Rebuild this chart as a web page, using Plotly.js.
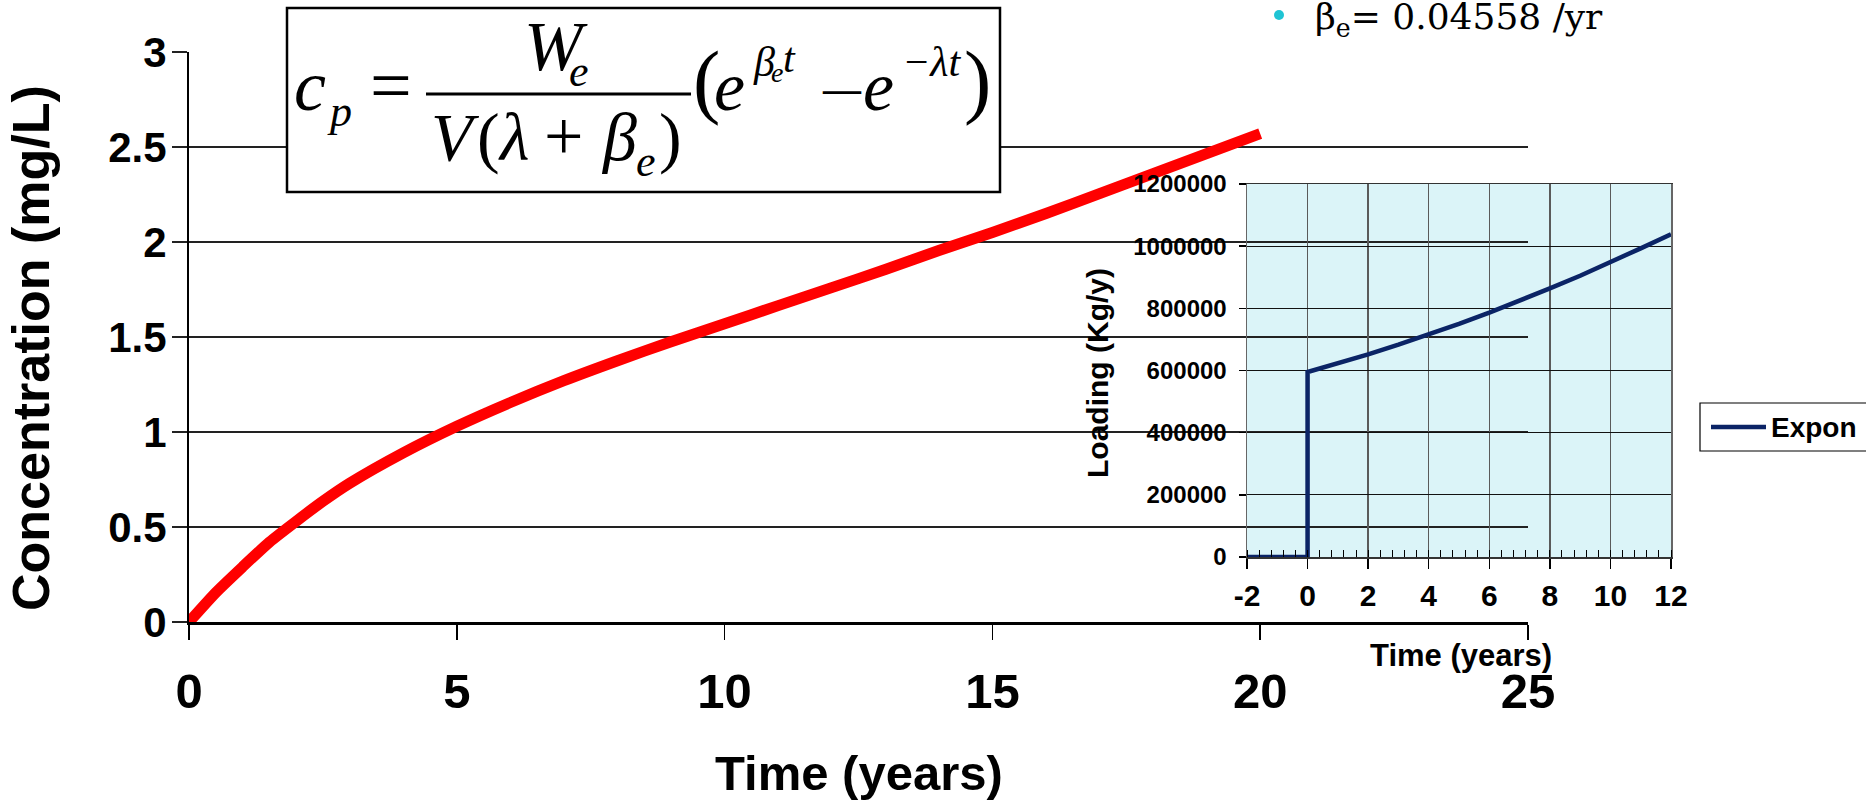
<!DOCTYPE html>
<html>
<head>
<meta charset="utf-8">
<script src="https://cdn.plot.ly/plotly-3.0.1.min.js"></script>
<style>html,body{margin:0;padding:0;background:#fff;}#chart{width:1866px;height:802px;}</style>
</head>
<body>
<div id="chart"></div>
<script>
// ---- data ----
const timeYears = [0, 0.5, 1, 1.5, 2, 2.5, 3, 4, 5, 6, 7, 8, 9, 10, 11, 12, 13, 14, 15, 16, 17, 18, 19, 20];
const concentration = [0, 0.155, 0.29, 0.42, 0.53, 0.635, 0.73, 0.89, 1.03, 1.155, 1.27, 1.375, 1.475, 1.57, 1.665, 1.76, 1.855, 1.955, 2.05, 2.15, 2.255, 2.36, 2.465, 2.57];

const loadTime = [-2, 0, 0, 1, 2, 3, 4, 5, 6, 7, 8, 9, 10, 11, 12];
const loadValue = [0, 0, 595000, 623000, 652000, 683000, 716000, 750000, 786000, 824000, 864000, 905000, 948000, 993000, 1038000];

const mainXTicks = [0, 5, 10, 15, 20, 25];
const mainYTicks = [0, 0.5, 1, 1.5, 2, 2.5, 3];
const insetXTicks = [-2, 0, 2, 4, 6, 8, 10, 12];
const insetYTicks = [0, 200000, 400000, 600000, 800000, 1000000, 1200000];

const legendName = 'Expon';
const mainXTitle = 'Time (years)';
const mainYTitle = 'Concentration (mg/L)';
const insetXTitle = 'Time (years)';
const insetYTitle = 'Loading (Kg/y)';
const betaText = 'β<sub>e</sub>= 0.04558 /yr';

// ---- layout helpers (pixel -> paper) ----
const W = 1866, H = 802;
const px = x => x / W;
const py = y => 1 - y / H;
const SANS = 'Liberation Sans, Arial, sans-serif';
const SERIF = 'Liberation Serif, Times New Roman, serif';

function txt(text, xLeft, baseline, size, o) {
  o = o || {};
  const desc = (o.desc !== undefined) ? o.desc : 0.216;
  const center = o.center;
  return {
    xref: 'paper', yref: 'paper',
    x: center ? px(xLeft) : px(xLeft - 2),
    y: py(baseline + desc * size + 2),
    xanchor: center ? 'center' : 'left', yanchor: 'bottom',
    text: text, showarrow: false,
    font: {family: o.family || SERIF, size: size, color: '#000',
           style: o.italic ? 'italic' : 'normal', weight: o.bold ? 'bold' : 'normal'}
  };
}
function rot(text, cx, cy, size) {
  return {xref: 'paper', yref: 'paper', x: px(cx), y: py(cy), xanchor: 'center', yanchor: 'middle',
    text: text, showarrow: false, textangle: -90,
    font: {family: SANS, size: size, color: '#000', weight: 'bold'}};
}

const traces = [
  {x: timeYears, y: concentration, type: 'scatter', mode: 'lines', xaxis: 'x', yaxis: 'y',
   line: {color: '#ff0000', width: 11, shape: 'spline', smoothing: 0.6}, showlegend: false, hoverinfo: 'skip'},
  {x: loadTime, y: loadValue, type: 'scatter', mode: 'lines', xaxis: 'x2', yaxis: 'y2', name: legendName,
   line: {color: '#0b2466', width: 4.5}, showlegend: false, hoverinfo: 'skip'}
];

const layout = {
  width: W, height: H,
  margin: {l: 0, r: 0, t: 0, b: 0, pad: 0},
  paper_bgcolor: '#ffffff', plot_bgcolor: 'rgba(0,0,0,0)',
  showlegend: false,
  xaxis: {
    domain: [px(189), px(1528)], anchor: 'y', range: [0, 25],
    tickmode: 'array', tickvals: mainXTicks, ticktext: mainXTicks.map(String),
    showgrid: false, zeroline: false, showline: true, linecolor: '#000', linewidth: 2.5,
    ticks: 'outside', ticklen: 15, tickwidth: 1.5, tickcolor: '#000',
    tickfont: {family: SANS, size: 49, color: '#000', weight: 'bold'}, ticklabelstandoff: 10
  },
  yaxis: {
    domain: [1 - 622 / H, 1 - 52 / H], anchor: 'x', range: [0, 3],
    tickmode: 'array', tickvals: mainYTicks, ticktext: mainYTicks.map(String),
    showgrid: true, gridcolor: '#222', gridwidth: 1.8, zeroline: false,
    showline: true, linecolor: '#000', linewidth: 2,
    ticks: 'outside', ticklen: 15, tickwidth: 1.8, tickcolor: '#222',
    tickfont: {family: SANS, size: 42, color: '#000', weight: 'bold'}, ticklabelstandoff: -3
  },
  xaxis2: {
    domain: [px(1247), px(1671)], anchor: 'y2', range: [-2, 12],
    tickmode: 'array', tickvals: insetXTicks, ticktext: insetXTicks.map(String),
    showgrid: true, gridcolor: '#5a5a5a', gridwidth: 1.4, zeroline: false,
    showline: true, mirror: true, linecolor: '#333', linewidth: 1.5,
    ticks: 'outside', ticklen: 10, tickwidth: 1.5, tickcolor: '#000',
    minor: {ticks: 'inside', dtick: 0.4, tick0: -2, ticklen: 7, tickwidth: 1, tickcolor: '#000', showgrid: false},
    tickfont: {family: SANS, size: 30, color: '#000', weight: 'bold'}, ticklabelstandoff: 1
  },
  yaxis2: {
    domain: [1 - 557 / H, 1 - 184 / H], anchor: 'x2', range: [0, 1200000],
    tickmode: 'array', tickvals: insetYTicks, ticktext: insetYTicks.map(v => String(v)),
    showgrid: true, gridcolor: '#111', gridwidth: 1.3, zeroline: false,
    showline: true, mirror: true, linecolor: '#666', linewidth: 1.5,
    ticks: 'outside', ticklen: 7, tickwidth: 1.5, tickcolor: '#000',
    tickfont: {family: SANS, size: 24, color: '#000', weight: 'bold'}, ticklabelstandoff: 7
  },
  shapes: [
    // inset plot background
    {type: 'rect', xref: 'x2 domain', yref: 'y2 domain', x0: 0, x1: 1, y0: 0, y1: 1,
     fillcolor: '#dbf4f8', line: {width: 0}, layer: 'below'},
    // formula box
    {type: 'rect', xref: 'paper', yref: 'paper', x0: px(287), x1: px(1000), y0: py(192), y1: py(8),
     fillcolor: '#ffffff', line: {color: '#000', width: 2.5}, layer: 'above'},
    // fraction bar
    {type: 'line', xref: 'paper', yref: 'paper', x0: px(426), x1: px(691), y0: py(94), y1: py(94),
     line: {color: '#000', width: 3}, layer: 'above'},
    // bullet
    {type: 'circle', xref: 'paper', yref: 'paper', x0: px(1274), x1: px(1284), y0: py(20), y1: py(10),
     fillcolor: '#1fc4d4', line: {width: 0}, layer: 'above'},
    // legend box
    {type: 'rect', xref: 'paper', yref: 'paper', x0: px(1700), x1: px(1880), y0: py(451), y1: py(403),
     fillcolor: 'rgba(255,255,255,0)', line: {color: '#000', width: 1.2}, layer: 'above'},
    {type: 'line', xref: 'paper', yref: 'paper', x0: px(1711), x1: px(1766), y0: py(427), y1: py(427),
     line: {color: '#0b2466', width: 4.5}, layer: 'above'}
  ],
  annotations: [
    // axis titles
    txt(mainXTitle, 859, 790, 49, {family: SANS, bold: true, desc: 0.212, center: true}),
    rot(mainYTitle, 31, 348, 52),
    txt(insetXTitle, 1461, 666, 31, {family: SANS, bold: true, desc: 0.212, center: true}),
    rot(insetYTitle, 1098, 373, 30),
    // legend text
    txt(legendName, 1771, 437, 28, {family: SANS, bold: true, desc: 0.212}),
    // beta note
    {xref: 'paper', yref: 'paper', x: px(1313), y: py(29 - 0.928 * 36 - 2), xanchor: 'left', yanchor: 'top',
     text: betaText, showarrow: false, font: {family: 'DejaVu Serif, serif', size: 36, color: '#000'}},
    // formula pieces
    txt('c', 294, 110, 72, {italic: true}),
    txt('p', 327, 126, 44, {italic: true}),
    txt('=', 370, 110, 74),
    txt('W', 524, 70, 70, {italic: true}),
    txt('e', 569, 86, 44, {italic: true}),
    txt('V', 431, 160, 68, {italic: true}),
    txt('(', 477, 160, 68),
    txt('λ', 498, 160, 68, {italic: true}),
    txt('+', 544, 160, 70),
    txt('β', 601, 160, 68, {italic: true}),
    txt('e', 636, 176, 44, {italic: true}),
    txt(')', 659, 160, 68),
    txt('(', 693, 108, 82),
    txt('e', 714, 110, 70, {italic: true}),
    txt('β', 753, 76, 42, {italic: true}),
    txt('e', 771, 82, 28, {italic: true}),
    txt('t', 783, 72, 42, {italic: true}),
    txt('—', 822, 102, 38, {bold: true}),
    txt('e', 863, 110, 70, {italic: true}),
    txt('−λt', 902, 76, 42, {italic: true}),
    txt(')', 964, 108, 82)
  ]
};

Plotly.newPlot('chart', traces, layout, {staticPlot: true, displayModeBar: false});
</script>
</body>
</html>
